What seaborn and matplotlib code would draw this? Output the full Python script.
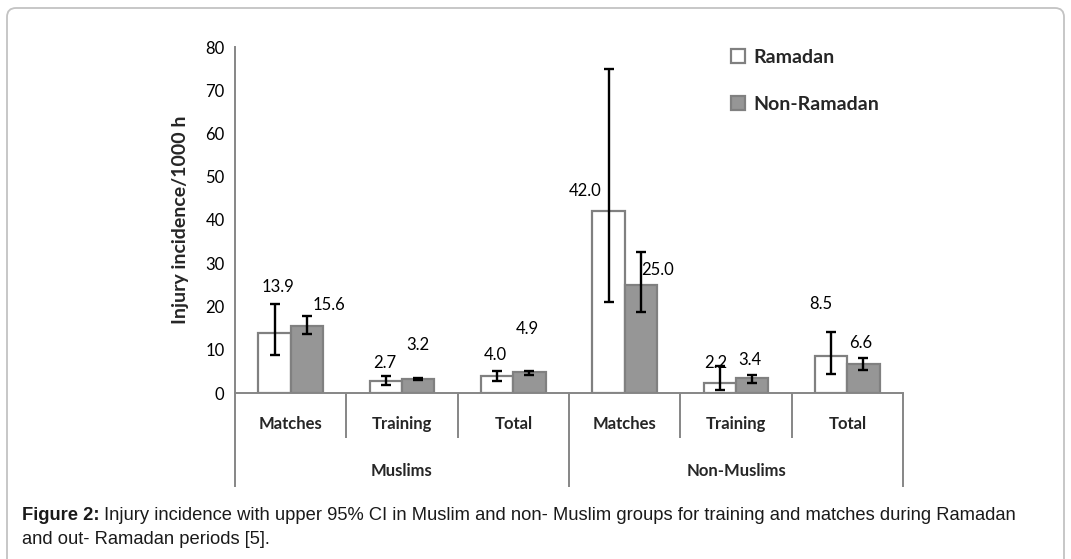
import numpy as np
import pandas as pd
import seaborn as sns
import matplotlib
matplotlib.use("Agg")
import matplotlib.pyplot as plt
from matplotlib.patches import FancyBboxPatch, Patch

# ---------------- data ----------------
groups = ["Muslims", "Non-Muslims"]
activities = ["Matches", "Training", "Total"]
periods = ["Ramadan", "Non-Ramadan"]

ramadan = [13.9, 2.7, 4.0, 42.0, 2.2, 8.5]
non_ramadan = [15.6, 3.2, 4.9, 25.0, 3.4, 6.6]
ramadan_lo = [8.8, 1.8, 2.8, 21.0, 0.8, 4.5]
ramadan_hi = [20.5, 3.9, 5.0, 74.9, 6.2, 14.0]
non_ramadan_lo = [13.7, 2.9, 4.2, 18.8, 2.4, 5.3]
non_ramadan_hi = [17.7, 3.4, 5.2, 32.7, 4.2, 8.2]

y_ticks = [0, 10, 20, 30, 40, 50, 60, 70, 80]

# label placement (Excel-style): y in data units, dx in pixels
ramadan_label_y = [24.5, 6.9, 8.8, 46.8, 7.0, 20.5]
ramadan_label_dx = [3, -1, -2, -23, -4, -10]
non_ramadan_label_y = [20.3, 11.1, 14.7, 28.4, 7.6, 11.5]
non_ramadan_label_dx = [22, 0, -2, 17, -2, -3]

caption_bold = "Figure 2:"
caption_line1 = "Injury incidence with upper 95% CI in Muslim and non- Muslim groups for training and matches during Ramadan"
caption_line2 = "and out- Ramadan periods [5]."

# ---------------- frame ----------------
slots = [f"{g}|{a}" for g in groups for a in activities]
rows = []
for i, s in enumerate(slots):
    rows.append({"slot": s, "period": periods[0], "value": ramadan[i],
                 "lo": ramadan_lo[i], "hi": ramadan_hi[i]})
    rows.append({"slot": s, "period": periods[1], "value": non_ramadan[i],
                 "lo": non_ramadan_lo[i], "hi": non_ramadan_hi[i]})
df = pd.DataFrame(rows)

sns.set_style("white")
plt.rcParams["font.family"] = ["Lato", "DejaVu Sans"]

W, H = 1071, 559
fig = plt.figure(figsize=(W / 100, H / 100), dpi=100)
ax_left, ax_right, ax_top, ax_bottom = 235, 903, 47, 393
ax = fig.add_axes([ax_left / W, 1 - ax_bottom / H, (ax_right - ax_left) / W, (ax_bottom - ax_top) / H])

GRAY = "#868686"
EDGE = "#808080"
palette = {"Ramadan": "#ffffff", "Non-Ramadan": "#969696"}

sns.barplot(data=df, x="slot", y="value", hue="period", order=slots, hue_order=periods,
            palette=palette, width=0.58, edgecolor=EDGE, linewidth=1.6,
            errorbar=None, legend=False, ax=ax, saturation=1)

# bar centres from patches
centers = {}
for p in ax.patches:
    if p.get_width() <= 0:
        continue
    xc = p.get_x() + p.get_width() / 2
    slot_i = int(round(xc))
    per = periods[0] if xc < slot_i else periods[1]
    centers[(slot_i, per)] = xc

series = {
    periods[0]: (ramadan, ramadan_lo, ramadan_hi, ramadan_label_y, ramadan_label_dx),
    periods[1]: (non_ramadan, non_ramadan_lo, non_ramadan_hi, non_ramadan_label_y, non_ramadan_label_dx),
}
for per, (vals, lo, hi, ly, ldx) in series.items():
    xs = [centers[(i, per)] for i in range(len(slots))]
    v = np.array(vals)
    yerr = [v - np.array(lo), np.array(hi) - v]
    ax.errorbar(xs, v, yerr=yerr, fmt="none", ecolor="black", elinewidth=1.7,
                capsize=3.6, capthick=1.7, zorder=5)
    for x, val, y, dx in zip(xs, vals, ly, ldx):
        ax.annotate(f"{val:.1f}", xy=(x, y), xytext=(dx, 0), textcoords="offset pixels",
                    ha="center", va="center", fontsize=12, color="#000000")

# axes styling
ax.set_xlim(-0.5, len(slots) - 0.5)
ax.set_ylim(0, 80)
ax.set_yticks(y_ticks)
ax.set_yticklabels([str(t) for t in y_ticks], fontsize=12)
ax.set_xticks([])
ax.set_xlabel("")
ax.set_ylabel("")
for side in ["top", "right"]:
    ax.spines[side].set_visible(False)
for side in ["left", "bottom"]:
    ax.spines[side].set_color(GRAY)
    ax.spines[side].set_linewidth(1.4)
ax.tick_params(axis="y", direction="out", length=6, width=1.3, color=GRAY, pad=1.5, labelcolor="black")
ax.patch.set_alpha(0)

# hierarchical category axis
unit_px = (ax_bottom - ax_top) / 80.0
inner_end = -(438 - ax_bottom) / unit_px
outer_end = -(487 - ax_bottom) / unit_px
for b in np.arange(-0.5, len(slots), 1.0):
    is_outer = abs((b + 0.5) % len(activities)) < 1e-9
    ax.plot([b, b], [0, outer_end if is_outer else inner_end], color=GRAY, lw=1.4,
            clip_on=False, solid_capstyle="butt")
cat_y = -(424 - ax_bottom) / unit_px
grp_y = -(471 - ax_bottom) / unit_px
for i, s in enumerate(slots):
    ax.text(i, cat_y, s.split("|")[1], ha="center", va="center", fontsize=12,
            fontweight="bold", clip_on=False)
for gi, g in enumerate(groups):
    ax.text(gi * len(activities) + (len(activities) - 1) / 2, grp_y, g, ha="center",
            va="center", fontsize=12, fontweight="bold", clip_on=False)

# y label
fig.text(180 / W, 1 - 220 / H, "Injury incidence/1000 h", rotation=90, ha="center",
         va="center", fontsize=14, fontweight="bold")

# legend
handles = [Patch(facecolor=palette[p], edgecolor=EDGE, linewidth=1.6, label=p) for p in periods]
ax.legend(handles=handles, loc="upper left", bbox_to_anchor=(731 / W, 1 - 49 / H),
          bbox_transform=fig.transFigure, frameon=False,
          prop={"weight": "bold", "size": 14}, handlelength=0.72, handleheight=0.72,
          handletextpad=0.45, labelspacing=1.52, borderpad=0, borderaxespad=0)

# outer rounded frame
frame = FancyBboxPatch((7 / 100, -0.5), (1064 - 7) / 100, (H - 8) / 100 + 0.5,
                       boxstyle="round,pad=0,rounding_size=0.09",
                       transform=fig.dpi_scale_trans, facecolor="none",
                       edgecolor="#c3c3c3", linewidth=1.3, clip_on=False)
fig.patches.append(frame)

# caption
cap_font = ["Liberation Sans", "DejaVu Sans"]
t1 = fig.text(22 / W, 1 - 515 / H, caption_bold, ha="left", va="center",
              fontsize=13.2, fontweight="bold", family=cap_font, color="#1a1a1a")
fig.canvas.draw()
bb = t1.get_window_extent()
fig.text((bb.x1 + 5) / W, 1 - 515 / H, caption_line1, ha="left", va="center",
         fontsize=13.2, family=cap_font, color="#1a1a1a")
fig.text(22 / W, 1 - 539 / H, caption_line2, ha="left", va="center",
         fontsize=13.2, family=cap_font, color="#1a1a1a")

fig.savefig("out.png", dpi=100)
